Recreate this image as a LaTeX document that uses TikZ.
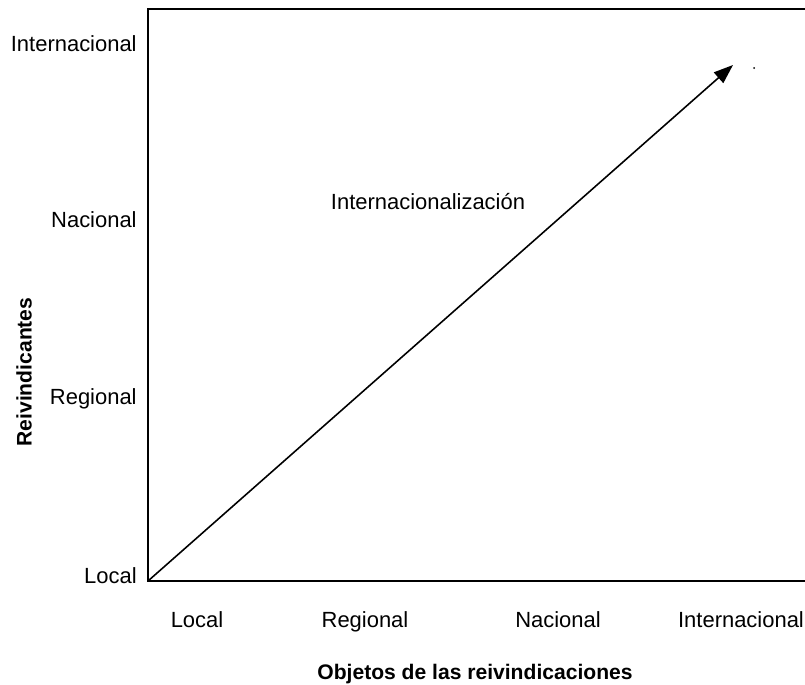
\documentclass[tikz,border=0pt]{standalone}
\usepackage{fontspec}
\setmainfont{Liberation Sans}
\usetikzlibrary{arrows.meta}
\begin{document}
\begin{tikzpicture}[x=0.02cm,y=-0.02cm,
  lab/.style={font=\fontsize{12.5}{14}\selectfont, inner sep=0pt},
  ttl/.style={font=\fontsize{12}{14}\selectfont\bfseries, inner sep=0pt},
  axis/.style={line width=1.1pt},
  arr/.style={line width=0.9pt, -{Triangle[length=11pt,width=8pt]}}]
\useasboundingbox (0,0) rectangle (805,684);
\coordinate (O) at (148,581);
\coordinate (T) at (148,9);
\coordinate (TR) at (805,9);
\coordinate (BR) at (805,581);
\coordinate (tip) at (733,65);
\draw[axis] (TR) -- (T) -- (O) -- (BR);
\draw[arr] (O) -- (tip);
\fill (754,68) circle (1);
% y labels
\node[lab, anchor=base east] (yi) at (137,51) {Internacional};
\node[lab, anchor=base east] (yn) at (137,227) {Nacional};
\node[lab, anchor=base east] (yr) at (137,404) {Regional};
\node[lab, anchor=base east] (yl) at (137,583) {Local};
% x labels
\node[lab, anchor=base] (xl) at (197,627) {Local};
\node[lab, anchor=base] (xr) at (365,627) {Regional};
\node[lab, anchor=base] (xn) at (558,627) {Nacional};
\node[lab, anchor=base] (xi) at (741,627) {Internacional};
\node[lab, anchor=base] (int) at (428,209) {Internacionalización};
\node[ttl, rotate=90] (yt) at (24,372) {Reivindicantes};
\node[ttl] (xt) at (475,674) {Objetos de las reivindicaciones};
\end{tikzpicture}
\end{document}
